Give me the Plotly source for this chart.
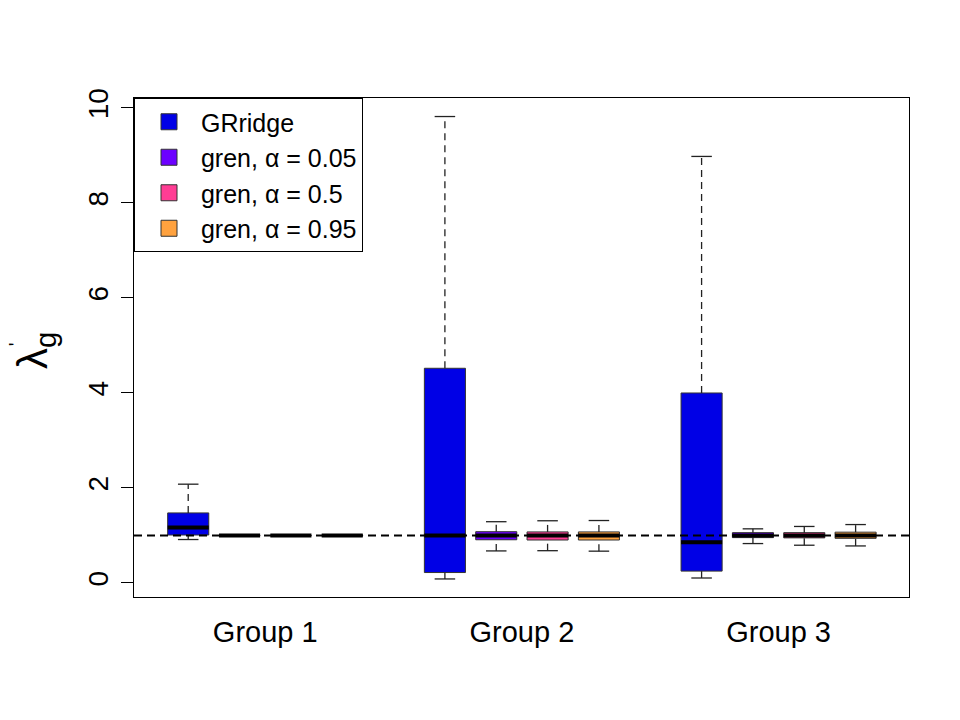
import plotly.graph_objects as go

# Groups and methods
groups = ["Group 1", "Group 2", "Group 3"]
methods = ["GRridge", "gren, α = 0.05", "gren, α = 0.5", "gren, α = 0.95"]
colors = ["#0000E6", "#6C00FF", "#FF3D94", "#FFA23F"]

# Box statistics (one list per method, one value per group)
lower_grridge = [0.915, 0.085, 0.105]
q1_grridge = [1.01, 0.22, 0.25]
median_grridge = [1.17, 1.0, 0.86]
q3_grridge = [1.475, 4.52, 4.0]
upper_grridge = [2.08, 9.82, 8.98]

lower_gren05 = [0.995, 0.675, 0.83]
q1_gren05 = [0.995, 0.91, 0.955]
median_gren05 = [1.0, 1.0, 1.0]
q3_gren05 = [1.005, 1.08, 1.06]
upper_gren05 = [1.005, 1.29, 1.14]

lower_gren5 = [0.995, 0.68, 0.795]
q1_gren5 = [0.995, 0.905, 0.95]
median_gren5 = [1.0, 1.0, 1.0]
q3_gren5 = [1.005, 1.075, 1.06]
upper_gren5 = [1.005, 1.31, 1.19]

lower_gren95 = [0.995, 0.67, 0.78]
q1_gren95 = [0.995, 0.905, 0.94]
median_gren95 = [1.0, 1.0, 1.0]
q3_gren95 = [1.005, 1.075, 1.07]
upper_gren95 = [1.005, 1.315, 1.23]

stats = [
    (lower_grridge, q1_grridge, median_grridge, q3_grridge, upper_grridge),
    (lower_gren05, q1_gren05, median_gren05, q3_gren05, upper_gren05),
    (lower_gren5, q1_gren5, median_gren5, q3_gren5, upper_gren5),
    (lower_gren95, q1_gren95, median_gren95, q3_gren95, upper_gren95),
]

box_width = 0.8
cap_half = 0.2
font_family = "Liberation Sans, Arial, sans-serif"

fig = go.Figure()

for m, (name, color) in enumerate(zip(methods, colors)):
    lo, q1, med, q3, hi = stats[m]
    pos = [g * 5 + m + 1 for g in range(len(groups))]

    # boxes
    fig.add_trace(go.Bar(
        x=pos, y=[b - a for a, b in zip(q1, q3)], base=q1, width=box_width,
        marker=dict(color=color, line=dict(color="#333333", width=1)),
        showlegend=False, hoverinfo="skip",
    ))

    # dashed whiskers
    wx, wy = [], []
    for p, a, b, c, d in zip(pos, lo, q1, q3, hi):
        wx += [p, p, None, p, p, None]
        wy += [a, b, None, c, d, None]
    fig.add_trace(go.Scatter(
        x=wx, y=wy, mode="lines", line=dict(color="#222222", width=1.3, dash="7px,5px"),
        showlegend=False, hoverinfo="skip",
    ))

    # whisker caps
    cx, cy = [], []
    for p, a, d in zip(pos, lo, hi):
        cx += [p - cap_half, p + cap_half, None, p - cap_half, p + cap_half, None]
        cy += [a, a, None, d, d, None]
    fig.add_trace(go.Scatter(
        x=cx, y=cy, mode="lines", line=dict(color="#222222", width=1.3),
        showlegend=False, hoverinfo="skip",
    ))

    # medians
    mx, my = [], []
    for p, v in zip(pos, med):
        mx += [p - box_width / 2, p + box_width / 2, None]
        my += [v, v, None]
    fig.add_trace(go.Scatter(
        x=mx, y=my, mode="lines", line=dict(color="black", width=4),
        showlegend=False, hoverinfo="skip",
    ))

# legend entries
for name, color in zip(methods, colors):
    fig.add_trace(go.Scatter(
        x=[None], y=[None], mode="markers", name="\u00a0\u2009" + name,
        marker=dict(symbol="square", size=16, color=color, line=dict(color="#333333", width=1)),
    ))

# reference line at 1
fig.add_hline(y=1, line=dict(color="black", width=1.8, dash="8px,5px"), layer="above")

# y axis title: lambda' with subscript g
fig.add_annotation(
    text="λ<sub>g</sub>", xref="paper", yref="paper", x=-0.1265, y=0.495,
    xanchor="center", yanchor="middle",
    textangle=-90, showarrow=False, font=dict(family=font_family, size=42, color="black"),
)
fig.add_annotation(
    text="'", xref="paper", yref="paper", x=-0.152, y=0.507,
    xanchor="center", yanchor="middle",
    textangle=-90, showarrow=False, font=dict(family=font_family, size=20, color="black"),
)

fig.update_layout(
    width=960, height=720,
    margin=dict(l=126, r=59, t=90, b=131),
    plot_bgcolor="white", paper_bgcolor="white",
    barmode="overlay",
    font=dict(family=font_family, size=28, color="black"),
    legend=dict(
        x=0, y=1, xanchor="left", yanchor="top",
        bordercolor="black", borderwidth=1, bgcolor="white",
        font=dict(size=25), indentation=14,
    ),
    xaxis=dict(
        range=[-0.056, 15.04], tickvals=[2.5, 7.5, 12.5], ticktext=groups,
        showgrid=False, zeroline=False, ticks="",
        showline=True, mirror=True, linecolor="black", linewidth=1,
        ticklabelstandoff=9, tickfont=dict(size=29),
    ),
    yaxis=dict(
        range=[-0.295, 10.21], tickvals=[0, 2, 4, 6, 8, 10],
        showgrid=False, zeroline=False, ticks="outside", ticklen=12, tickcolor="black",
        tickangle=-90, showline=True, mirror=True, linecolor="black", linewidth=1,
        ticklabelstandoff=2,
    ),
)

fig.write_html("out.html")
